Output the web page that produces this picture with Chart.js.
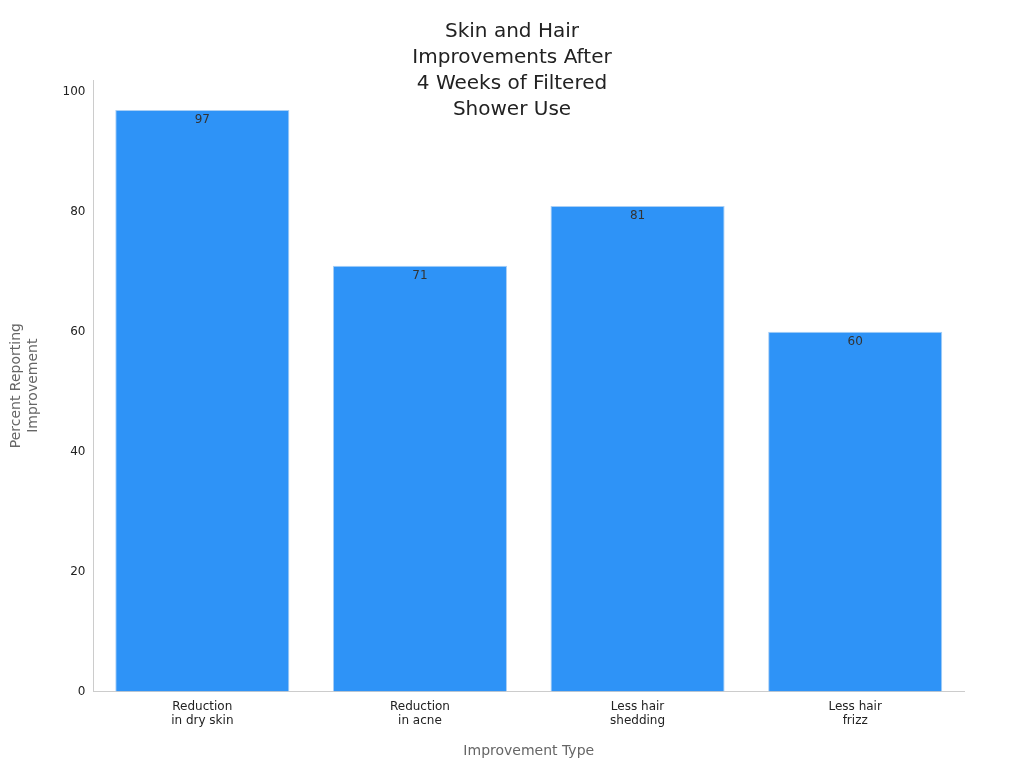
<!DOCTYPE html>
<html><head><meta charset="utf-8">
<script src="https://cdn.jsdelivr.net/npm/chart.js@4/dist/chart.umd.min.js"></script>
<style>html,body{margin:0;padding:0;background:#fff}#w{width:1024px;height:768px}</style>
</head><body><div id="w"><canvas id="c"></canvas></div>
<script>
const categories = [["Reduction","in dry skin"],["Reduction","in acne"],["Less hair","shedding"],["Less hair","frizz"]];
const values = [97, 71, 81, 60];
const yTicks = [0, 20, 40, 60, 80, 100];
const titleLines = ["Skin and Hair","Improvements After","4 Weeks of Filtered","Shower Use"];
const F = "'DejaVu Sans', sans-serif";

const overlay = {
  id: 'overlay',
  afterDatasetsDraw(chart) {
    const ctx = chart.ctx;
    ctx.save();
    ctx.font = "12px " + F; ctx.fillStyle = "#333"; ctx.textAlign = "center"; ctx.textBaseline = "top";
    chart.getDatasetMeta(0).data.forEach((b, i) => ctx.fillText(String(values[i]), b.x, b.y + 4));
    ctx.font = "20px " + F; ctx.fillStyle = "#222";
    titleLines.forEach((t, i) => ctx.fillText(t, 512, 22 + i * 26));
    ctx.restore();
  }
};

new Chart(document.getElementById('c'), {
  type: 'bar',
  data: { labels: categories, datasets: [{ data: values, backgroundColor: '#2e93f7', borderColor: '#a9cff5', borderWidth: 1, barPercentage: 0.8, categoryPercentage: 1 }] },
  options: {
    responsive: true, maintainAspectRatio: false, animation: false,
    layout: { padding: { top: 80, right: 60, left: 4, bottom: 4 } },
    plugins: { legend: { display: false }, tooltip: { enabled: false } },
    scales: {
      x: {
        grid: { display: false, drawTicks: true, tickLength: 5 },
        border: { color: '#ccc' },
        ticks: { color: '#222', font: { family: F, size: 12 } },
        title: { display: true, text: 'Improvement Type', color: '#666', font: { family: F, size: 14 }, padding: { top: 12 } }
      },
      y: {
        min: 0, max: 102,
        afterBuildTicks: s => { s.ticks = yTicks.map(v => ({ value: v })); },
        grid: { display: false, drawTicks: true, tickLength: 5 },
        border: { color: '#ccc' },
        ticks: { color: '#222', font: { family: F, size: 12 } },
        title: { display: true, text: ['Percent Reporting','Improvement'], color: '#666', font: { family: F, size: 14 }, padding: { bottom: 18 } }
      }
    }
  },
  plugins: [overlay]
});
</script></body></html>
